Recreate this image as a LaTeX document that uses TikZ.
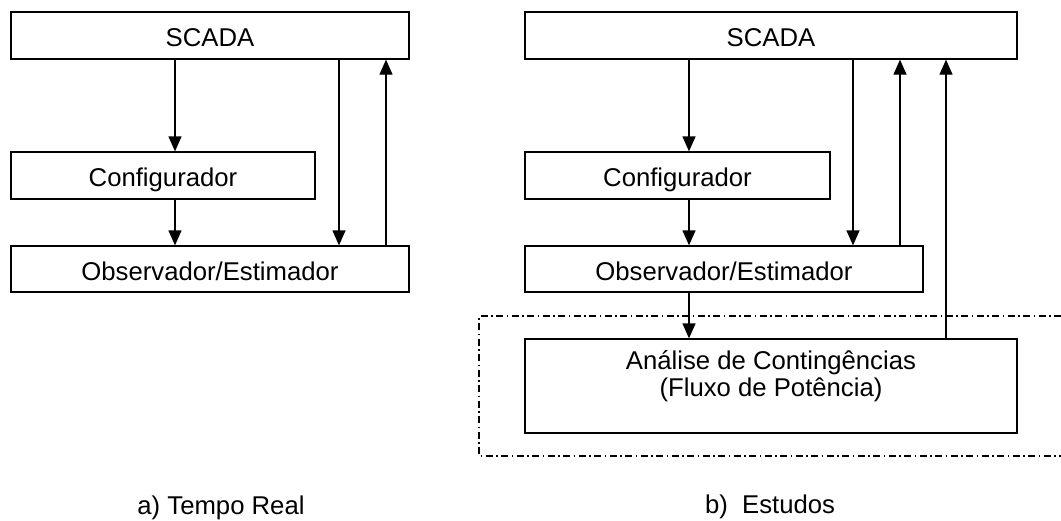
\documentclass[tikz,border=0pt]{standalone}
\usepackage{fontspec}
\setmainfont{Liberation Sans}
\usetikzlibrary{arrows.meta}

\begin{document}
\begin{tikzpicture}[x=1pt, y=-1pt, line width=1.3pt,
		font=\fontsize{25.7}{27}\selectfont,
		blk/.style={draw, inner sep=0pt, text height=22pt, text depth=0pt},
		arr/.style={-{Triangle[length=15pt, width=13pt]}}]
			\useasboundingbox (0,0) rectangle (1061,520);
			\node[blk, minimum width=398pt, minimum height=47pt] (scadaA) at (210,35.5) {SCADA};
			\node[blk, minimum width=304pt, minimum height=47pt] (confA) at (163,175.5) {Configurador};
			\node[blk, minimum width=398pt, minimum height=46pt] (obsA) at (210,269) {Observador/Estimador};
			\node[anchor=base] (lblA) at (221,514) {a) Tempo Real};
			\coordinate (xA1) at (175,0);
			\coordinate (xA2) at (339,0);
			\coordinate (xA3) at (386,0);
			\draw[arr] (scadaA.south -| xA1) -- (confA.north -| xA1);
			\draw[arr] (confA.south -| xA1) -- (obsA.north -| xA1);
			\draw[arr] (scadaA.south -| xA2) -- (obsA.north -| xA2);
			\draw[arr] (obsA.north -| xA3) -- (scadaA.south -| xA3);
			\node[blk, minimum width=492pt, minimum height=47pt] (scadaB) at (771,35.5) {SCADA};
			\node[blk, minimum width=305pt, minimum height=47pt] (confB) at (677.5,175.5) {Configurador};
			\node[blk, minimum width=398pt, minimum height=46pt] (obsB) at (724,269) {Observador/Estimador};
			\node[draw, minimum width=492pt, minimum height=94pt] (anaB) at (771,386) {};
			\node[align=center] (anaT) at (771,376) {Análise de Contingências\\(Fluxo de Potência)};
			\node[anchor=base] (lblB) at (770,513) {b)\ \ Estudos};
			\coordinate (xB1) at (689,0);
			\coordinate (xB2) at (853,0);
			\coordinate (xB3) at (900,0);
			\coordinate (xB4) at (946,0);
			\draw[arr] (scadaB.south -| xB1) -- (confB.north -| xB1);
			\draw[arr] (confB.south -| xB1) -- (obsB.north -| xB1);
			\draw[arr] (obsB.south -| xB1) -- (anaB.north -| xB1);
			\draw[arr] (scadaB.south -| xB2) -- (obsB.north -| xB2);
			\draw[arr] (obsB.north -| xB3) -- (scadaB.south -| xB3);
			\draw[arr] (anaB.north -| xB4) -- (scadaB.south -| xB4);
			\draw[line width=1.1pt, dash pattern=on 7pt off 3.5pt on 1.5pt off 3.5pt] (1061,316) -| (479,456) -- (1061,456);
		\end{tikzpicture}
\end{document}
